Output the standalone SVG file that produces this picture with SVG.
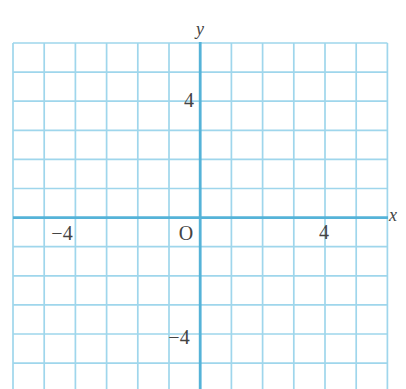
<svg xmlns="http://www.w3.org/2000/svg" width="406" height="389" viewBox="0 0 406 389">
<style>
.g{stroke:#9fd6ec;stroke-width:1.7;fill:none}
.a{stroke:#55b3d8;stroke-width:2.8;fill:none}
.t{font-family:"Liberation Serif","DejaVu Serif",serif;fill:#444;font-size:20px}
.i{font-style:italic;font-size:18px}
</style>
<rect width="406" height="389" fill="#ffffff"/>
<g id="grid" class="g">
<path d="M13 43V389M44.2 43V389M75.4 43V389M106.6 43V389M137.8 43V389M169 43V389M231.4 43V389M262.6 43V389M293.8 43V389M325 43V389M356.2 43V389M387.4 43V389"/>
<path d="M13 43H387.4M13 72.1H387.4M13 101.2H387.4M13 130.3H387.4M13 159.4H387.4M13 188.5H387.4M13 246.7H387.4M13 275.8H387.4M13 304.9H387.4M13 334H387.4M13 363.1H387.4"/>
</g>
<g id="axes" class="a">
<path d="M13 217.6H388"/>
<path d="M200.2 42V389"/>
</g>
<g id="labels">
<text class="t i" x="200" y="35" text-anchor="middle">y</text>
<text class="t i" x="393" y="221" text-anchor="middle">x</text>
<text class="t" x="189" y="107" text-anchor="middle">4</text>
<text class="t" x="62" y="240" text-anchor="middle">−4</text>
<text class="t" x="186" y="240" text-anchor="middle">O</text>
<text class="t" x="324" y="239" text-anchor="middle">4</text>
<text class="t" x="179" y="344" text-anchor="middle">−4</text>
</g>
</svg>
